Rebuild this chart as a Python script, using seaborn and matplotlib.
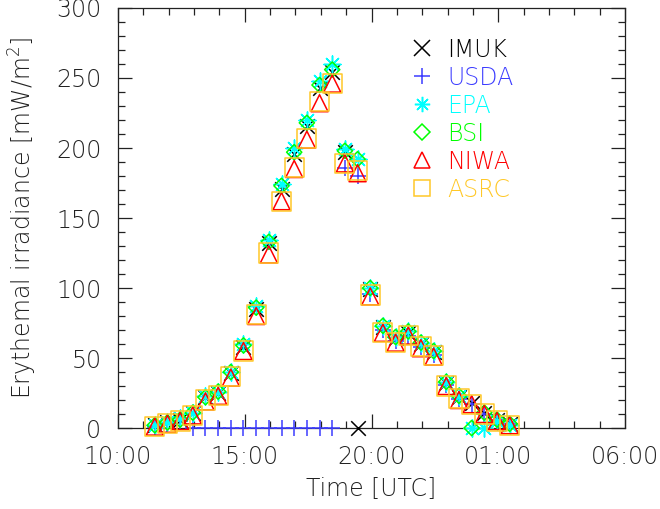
import numpy as np
import pandas as pd
import matplotlib
matplotlib.use("Agg")
import matplotlib.pyplot as plt
from matplotlib.lines import Line2D
from matplotlib.ticker import MultipleLocator, FixedLocator
from matplotlib import font_manager
import seaborn as sns

# ---- data ----
times = ["11:27", "11:57", "12:27", "12:57", "13:27", "13:57", "14:27", "14:57",
         "15:27", "15:57", "16:27", "16:57", "17:27", "17:57", "18:27", "18:57",
         "19:27", "19:57", "20:27", "20:57", "21:27", "21:57", "22:27", "22:57",
         "23:27", "23:57", "00:27", "00:57", "01:27"]
imuk = [2, 4, 6, 11, 22, 25, 39, 58, 85, 132, 171, 196, 216, 243, 254, 197, 0,
        99, 72, 64, 68, 60, 54, 32, 22, 18, 11, 6, 3]
usda = [1, 3, 5, 0, 0, 0, 0, 0, 0, 0, 0, 0, 0, 0, 0, 186, 180,
        96, 70, 62, 66, 58, 52, 31, 21, 17, 10, 6, 3]
epa = [2, 4, 7, 11, 23, 26, 40, 60, 87, 134, 174, 200, 220, 248, 260, 199, 192,
       100, 73, 65, 69, 61, 55, 33, 23, 0, 0, 5, 2]
bsi = [2, 4, 6, 11, 22, 26, 40, 59, 86, 133, 173, 197, 218, 245, 256, 198, 192,
       100, 73, 65, 69, 61, 55, 33, 23, 0, 11, 6, 3]
niwa = [1, 3, 5, 9, 19, 23, 36, 55, 80, 124, 162, 185, 206, 232, 246, 189, 182,
        94, 68, 61, 66, 57, 51, 30, 20, 17, 10, 5, 2]
asrc = [1, 3, 5, 9, 20, 23, 37, 55, 81, 125, 162, 186, 207, 233, 246, 189, 184,
        95, 68, 61, 66, 58, 52, 30, 21, 17, 10, 5, 2]

instruments = ["IMUK", "USDA", "EPA", "BSI", "NIWA", "ASRC"]
colors = ["#000000", "#3C3CFF", "#00FFFF", "#00FF00", "#FF0000", "#FFC828"]
markers = ["x", "+", (8, 2, 0), "D", "^", "s"]
msizes = [110, 140, 150, 60, 150, 190]
tick_vals = [10, 15, 20, 25, 30]
tick_labels = ["10:00", "15:00", "20:00", "01:00", "06:00"]


def to_hours(t):
    h, m = map(int, t.split(":"))
    v = h + m / 60.0
    return v + 24 if v < 10 else v


hours = [to_hours(t) for t in times]
series = [imuk, usda, epa, bsi, niwa, asrc]

sns.set_style("ticks")
plt.rcParams["font.family"] = ["DejaVu Sans"]
# thin font if available
weights = {f.weight for f in font_manager.fontManager.ttflist if f.name == "DejaVu Sans"}
WT = 200 if any(str(w) in ("200", "ultralight", "extra light") or w == 200 for w in weights) else "normal"
plt.rcParams["font.weight"] = WT
FS = 17

fig = plt.figure(figsize=(6.6, 5.09), dpi=100)
ax = fig.add_axes([0.1788, 0.1591, 0.9470 - 0.1788, 0.9843 - 0.1591])

for name, vals, col, mk, ms in zip(instruments, series, colors, markers, msizes):
    df = pd.DataFrame({"time": hours, "value": vals})
    if mk in ("D", "^", "s"):
        sns.scatterplot(data=df, x="time", y="value", marker=mk, s=ms,
                        facecolors="none", edgecolor=col, linewidth=1.1,
                        ax=ax, clip_on=False, zorder=3)
    else:
        sns.scatterplot(data=df, x="time", y="value", marker=mk, s=ms,
                        color=col, linewidth=1.1, ax=ax, clip_on=False, zorder=3)

ax.set_xlim(10, 30)
ax.set_ylim(0, 300)
ax.xaxis.set_major_locator(FixedLocator(tick_vals))
ax.set_xticklabels(tick_labels)
ax.xaxis.set_minor_locator(MultipleLocator(1))
ax.yaxis.set_major_locator(MultipleLocator(50))
ax.yaxis.set_minor_locator(MultipleLocator(10))
ax.tick_params(which="both", direction="in", top=True, right=True,
               labelsize=FS, colors="#222222", width=0.9)
ax.tick_params(which="major", length=10, pad=12)
ax.tick_params(which="minor", length=5)
for lab in ax.get_xticklabels() + ax.get_yticklabels():
    lab.set_fontweight(WT)
for sp in ax.spines.values():
    sp.set_visible(True)
    sp.set_linewidth(0.9)
    sp.set_color("#222222")

ax.set_xlabel("Time [UTC]", fontsize=FS, color="#222222", labelpad=6,
              fontweight=WT)
ax.set_ylabel("Erythemal irradiance [mW/m$^2$]", fontsize=FS, color="#222222",
              labelpad=12, fontweight=WT)

handles = []
for name, col, mk in zip(instruments, colors, markers):
    filled = mk not in ("D", "^", "s")
    handles.append(Line2D([], [], linestyle="none", marker=mk,
                          markersize=11 if mk != "D" else 8,
                          markeredgecolor=col,
                          markerfacecolor=col if filled else "none",
                          markeredgewidth=1.1, label=name))
leg = ax.legend(handles=handles, loc="upper left", bbox_to_anchor=(0.53, 0.98),
                frameon=False, labelspacing=0.17, handlelength=1.2,
                handletextpad=0.45, labelcolor=colors,
                prop={"size": FS, "weight": WT})

fig.savefig("out.png", dpi=100)
